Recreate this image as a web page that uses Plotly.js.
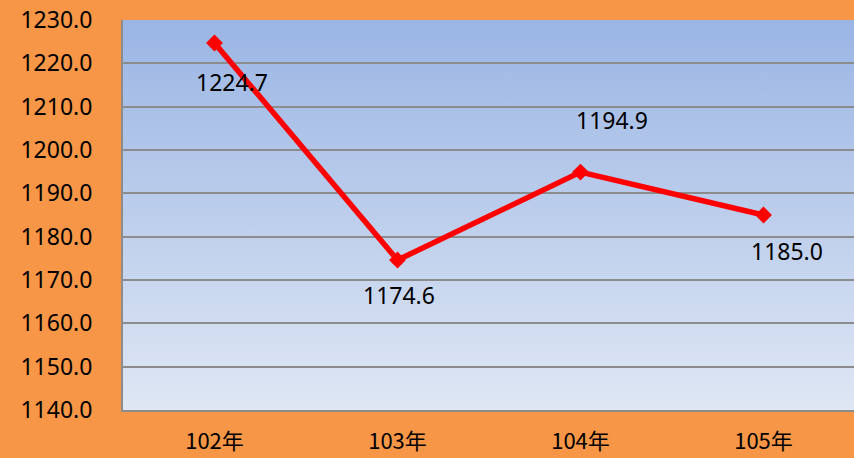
<!DOCTYPE html>
<html><head><meta charset="utf-8">
<script src="https://cdn.plot.ly/plotly-3.0.1.min.js"></script>
<style>html,body{margin:0;padding:0;overflow:hidden;background:#F79646;}#c{width:856px;height:458px;}</style>
</head><body><div id="c"></div>
<script>
const categories = ['102年','103年','104年','105年'];
const values = [1224.7, 1174.6, 1194.9, 1185.0];
const labelText = ['1224.7','1174.6','1194.9','1185.0'];
const yTicks = [1140,1150,1160,1170,1180,1190,1200,1210,1220,1230];
// label offsets (style only)
const lblShiftX = [17, 1, 31, 23];
const lblShiftY = [-39, -35, 52, -36];

const grad = 'data:image/svg+xml;utf8,' + encodeURIComponent(
 '<svg xmlns="http://www.w3.org/2000/svg" width="100" height="100" preserveAspectRatio="none"><defs><linearGradient id="g" x1="0" y1="0" x2="0" y2="1"><stop offset="0" stop-color="#9AB5E4"/><stop offset="1" stop-color="#DFE7F4"/></linearGradient></defs><rect width="100" height="100" fill="url(#g)"/></svg>');

const font = '"Noto Sans","Open Sans",sans-serif';
const trace = {
  x: categories, y: values, type:'scatter', mode:'lines+markers',
  line:{color:'#FF0000', width:5.5},
  marker:{symbol:'diamond', size:13, color:'#FF0000'},
  hoverinfo:'skip', cliponaxis:false
};
const annotations = values.map((v,i)=>({
  x: categories[i], y: v, xref:'x', yref:'y', text: labelText[i], showarrow:false,
  xshift: lblShiftX[i], yshift: lblShiftY[i],
  font:{family:font, size:23, color:'#000'}
}));
const layout = {
  width:856, height:458,
  margin:{l:123, r:1, t:20, b:48},
  paper_bgcolor:'#F79646', plot_bgcolor:'rgba(0,0,0,0)',
  showlegend:false,
  images:[{source:grad, xref:'paper', yref:'paper', x:0, y:1, sizex:1, sizey:1, sizing:'stretch', layer:'below', xanchor:'left', yanchor:'top'}],
  xaxis:{type:'category', range:[-0.5,3.5], showgrid:false, zeroline:false,
    showline:true, linecolor:'#8C8C8C', linewidth:2, ticks:'', ticklabelstandoff:11,
    tickfont:{family:'"Noto Sans CJK TC","Noto Sans",sans-serif', size:22, color:'#000'}, fixedrange:true},
  yaxis:{range:[1140,1230], tickvals:yTicks, tickformat:'.1f', showgrid:true, gridcolor:'#8C8C8C', gridwidth:2,
    zeroline:false, showline:true, linecolor:'#8C8C8C', linewidth:2, ticks:'', ticklabelstandoff:24,
    tickfont:{family:font, size:23, color:'#000'}, fixedrange:true},
  annotations: annotations
};
Plotly.newPlot('c',[trace],layout,{displayModeBar:false, staticPlot:true});
</script></body></html>
